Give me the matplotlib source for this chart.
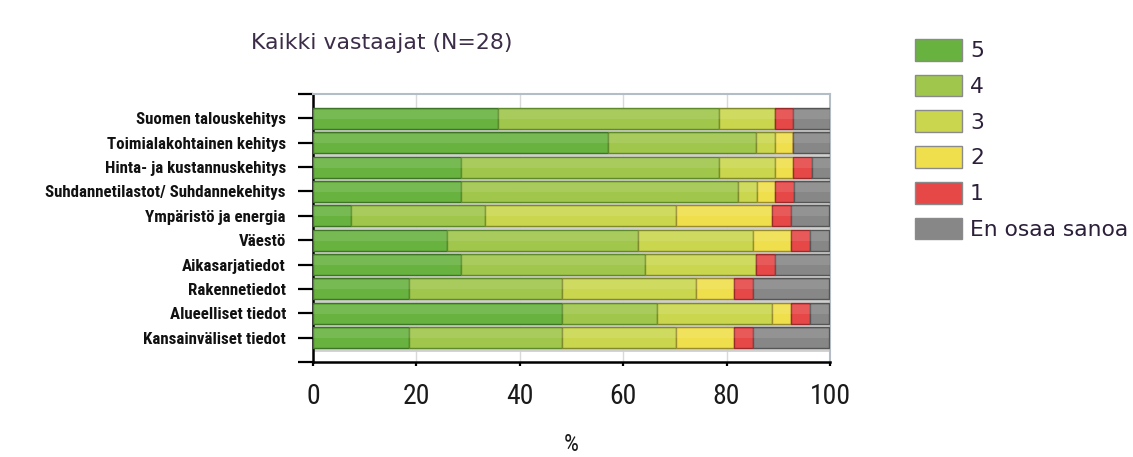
import matplotlib
matplotlib.use("Agg")
import matplotlib.pyplot as plt
from matplotlib import font_manager
from matplotlib.patches import Patch
import numpy as np

categories = [
    "Suomen talouskehitys",
    "Toimialakohtainen kehitys",
    "Hinta- ja kustannuskehitys",
    "Suhdannetilastot/ Suhdannekehitys",
    "Ympäristö ja energia",
    "Väestö",
    "Aikasarjatiedot",
    "Rakennetiedot",
    "Alueelliset tiedot",
    "Kansainväliset tiedot",
]
series_names = ["5", "4", "3", "2", "1", "En osaa sanoa"]
s5 = [35.7, 57.1, 28.6, 28.6, 7.4, 25.9, 28.6, 18.5, 48.1, 18.5]
s4 = [42.9, 28.6, 50.0, 53.6, 25.9, 37.0, 35.7, 29.6, 18.5, 29.6]
s3 = [10.7, 3.6, 10.7, 3.6, 37.0, 22.2, 21.4, 25.9, 22.2, 22.2]
s2 = [0.0, 3.6, 3.6, 3.6, 18.5, 7.4, 0.0, 7.4, 3.7, 11.1]
s1 = [3.6, 0.0, 3.6, 3.6, 3.7, 3.7, 3.6, 3.7, 3.7, 3.7]
s_eos = [7.1, 7.1, 3.6, 7.1, 7.4, 3.7, 10.7, 14.8, 3.7, 14.8]
xticks = [0, 20, 40, 60, 80, 100]
title = "Kaikki vastaajat (N=28)"
xlabel = "%"

colors = ["#68b23f", "#a0c64c", "#c9d64e", "#f0df4c", "#e64848", "#878787"]
edges = ["#3d7524", "#5f8a2a", "#7f8a2a", "#9a8c2a", "#9a2a2a", "#555555"]

available = {f.name for f in font_manager.fontManager.ttflist}
def pick(*names):
    for n in names:
        if n in available:
            return n
    return "DejaVu Sans"
narrow = pick("Liberation Sans Narrow", "Roboto Condensed", "DejaVu Sans Condensed", "Roboto")

W, H = 1133, 457
fig = plt.figure(figsize=(W / 100, H / 100), dpi=100)
ax = fig.add_axes([313 / W, 1 - 362 / H, (830 - 313) / W, (362 - 94) / H])

series = [s5, s4, s3, s2, s1, s_eos]
ypos = np.arange(1, len(categories) + 1)
left = np.zeros(len(categories))
for vals, c, e in zip(series, colors, edges):
    vals = np.array(vals)
    ax.barh(ypos, vals, left=left, height=0.86, color=c, edgecolor=e, linewidth=1.0, zorder=3)
    # soft highlight on the upper part of each bar
    ax.barh(ypos - 0.17, vals, left=left, height=0.38, color="white", alpha=0.10,
            linewidth=0, zorder=4)
    left = left + vals

# light separator lines below each bar
for y in ypos:
    ax.axhline(y + 0.5, color="#cfcfcf", lw=2.0, zorder=2)

ax.set_xlim(0, 100)
ax.set_ylim(11, 0)
ax.set_xticks(xticks)
ax.set_xticklabels([str(t) for t in xticks], fontfamily=narrow, fontsize=20, color="#1a1a1a")
ax.set_yticks(np.arange(0, 12))
ax.set_yticklabels([""] + categories + [""], fontfamily=narrow, fontweight="bold",
                   fontsize=12.2, color="#111111")
ax.tick_params(axis="y", length=10.5, width=1.6, color="black", pad=9)
ax.tick_params(axis="x", length=3, width=1.6, color="black", pad=12)

ax.grid(axis="x", color="#d9d9d9", lw=1.0, zorder=0)
ax.set_axisbelow(True)
for s in ["top", "right"]:
    ax.spines[s].set_color("#b4bcc6")
    ax.spines[s].set_linewidth(1.5)
for s in ["left", "bottom"]:
    ax.spines[s].set_color("black")
    ax.spines[s].set_linewidth(1.8)

ax.set_xlabel(xlabel, fontfamily=narrow, fontsize=17, color="#1a1a1a", labelpad=17)

fig.text(382 / W, 1 - 43 / H, title, ha="center", va="center", fontsize=15.8,
         color="#3b2c48", fontfamily="DejaVu Sans")

handles = [Patch(facecolor=c, edgecolor="#8a8a8a", linewidth=1.0) for c in colors]
fig.legend(handles, series_names, loc="upper left", bbox_to_anchor=(915 / W, 1 - 39 / H),
           bbox_transform=fig.transFigure, frameon=False, borderpad=0, borderaxespad=0,
           handlelength=2.15, handleheight=1.15, handletextpad=0.37, labelspacing=0.62,
           prop={"family": "DejaVu Sans", "size": 15.7}, labelcolor="#2b1f3a")

fig.savefig("out.png", dpi=100)
